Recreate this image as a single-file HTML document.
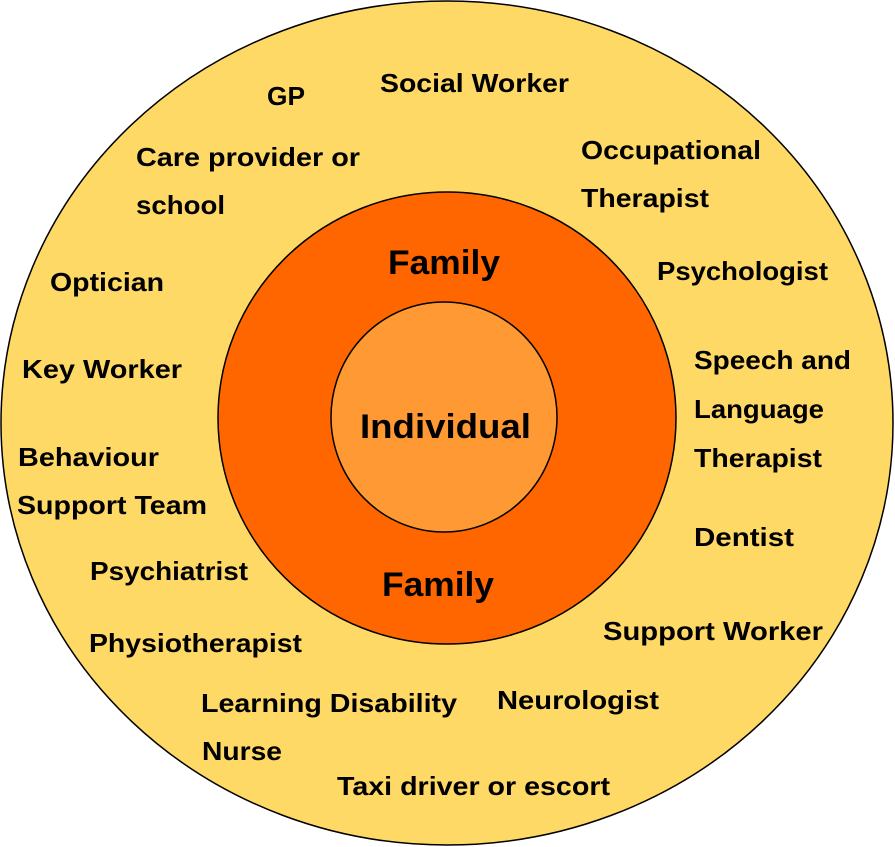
<!DOCTYPE html>
<html><head><meta charset="utf-8"><style>html,body{margin:0;padding:0;background:#fff}svg{display:block}text{font-family:"Liberation Sans",sans-serif;font-weight:bold;fill:#000}</style></head>
<body>
<svg width="895" height="847" viewBox="0 0 895 847" xmlns="http://www.w3.org/2000/svg">
<ellipse cx="447" cy="423" rx="446" ry="422" fill="#FFD966" stroke="#000" stroke-width="1.5"/>
<ellipse cx="447" cy="418" rx="229" ry="226" fill="#FF6600" stroke="#000" stroke-width="1.5"/>
<ellipse cx="444" cy="417" rx="113" ry="115" fill="#FF9933" stroke="#000" stroke-width="1.5"/>
<g font-size="26">
<text x="267" y="105" textLength="38" lengthAdjust="spacingAndGlyphs">GP</text>
<text x="380" y="92" textLength="189" lengthAdjust="spacingAndGlyphs">Social Worker</text>
<text x="136" y="166" textLength="224" lengthAdjust="spacingAndGlyphs">Care provider or</text>
<text x="136" y="214" textLength="89" lengthAdjust="spacingAndGlyphs">school</text>
<text x="581" y="159" textLength="180" lengthAdjust="spacingAndGlyphs">Occupational</text>
<text x="581" y="207" textLength="128" lengthAdjust="spacingAndGlyphs">Therapist</text>
<text x="657" y="280" textLength="171" lengthAdjust="spacingAndGlyphs">Psychologist</text>
<text x="50" y="291" textLength="114" lengthAdjust="spacingAndGlyphs">Optician</text>
<text x="22" y="378" textLength="160" lengthAdjust="spacingAndGlyphs">Key Worker</text>
<text x="694" y="369" textLength="157" lengthAdjust="spacingAndGlyphs">Speech and</text>
<text x="694" y="418" textLength="130" lengthAdjust="spacingAndGlyphs">Language</text>
<text x="694" y="467" textLength="128" lengthAdjust="spacingAndGlyphs">Therapist</text>
<text x="18" y="466" textLength="141" lengthAdjust="spacingAndGlyphs">Behaviour</text>
<text x="17" y="514" textLength="190" lengthAdjust="spacingAndGlyphs">Support Team</text>
<text x="694" y="546" textLength="100" lengthAdjust="spacingAndGlyphs">Dentist</text>
<text x="90" y="580" textLength="158" lengthAdjust="spacingAndGlyphs">Psychiatrist</text>
<text x="603" y="640" textLength="220" lengthAdjust="spacingAndGlyphs">Support Worker</text>
<text x="89" y="652" textLength="213" lengthAdjust="spacingAndGlyphs">Physiotherapist</text>
<text x="201" y="712" textLength="256" lengthAdjust="spacingAndGlyphs">Learning Disability</text>
<text x="497" y="709" textLength="162" lengthAdjust="spacingAndGlyphs">Neurologist</text>
<text x="202" y="760" textLength="80" lengthAdjust="spacingAndGlyphs">Nurse</text>
<text x="337" y="795" textLength="273" lengthAdjust="spacingAndGlyphs">Taxi driver or escort</text>
</g>
<g font-size="34">
<text x="388" y="274" textLength="112" lengthAdjust="spacingAndGlyphs">Family</text>
<text x="382" y="596" textLength="112" lengthAdjust="spacingAndGlyphs">Family</text>
<text x="360" y="438" textLength="171" lengthAdjust="spacingAndGlyphs">Individual</text>
</g>
</svg>
</body></html>
